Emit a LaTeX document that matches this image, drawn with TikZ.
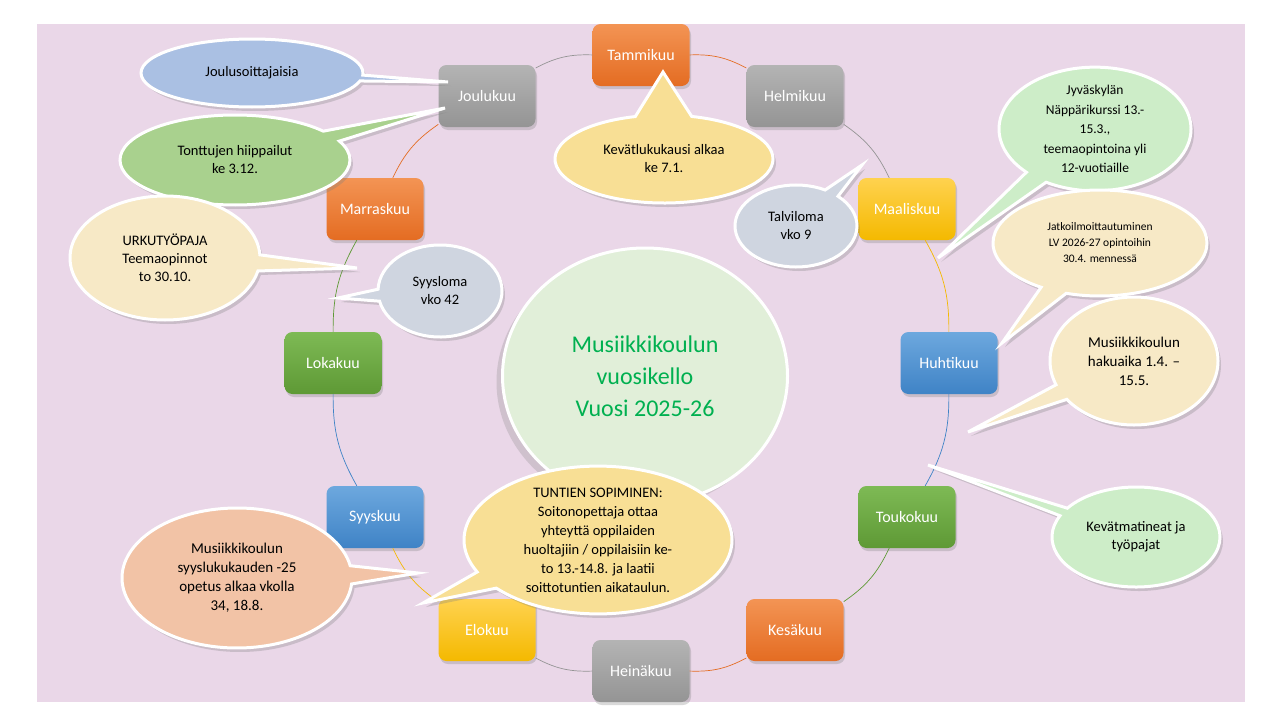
\documentclass[tikz,border=0pt]{standalone}
\usepackage{fontspec}
\setmainfont{Carlito}
\usetikzlibrary{shapes.callouts,shapes.geometric,shadows}

\definecolor{bgpink}{HTML}{EAD7E8}
\definecolor{orangeT}{HTML}{F39454}
\definecolor{orangeB}{HTML}{E46C22}
\definecolor{grayT}{HTML}{B4B4B4}
\definecolor{grayB}{HTML}{949494}
\definecolor{yellowT}{HTML}{FFD24F}
\definecolor{yellowB}{HTML}{F4B900}
\definecolor{blueT}{HTML}{6DA8DE}
\definecolor{blueB}{HTML}{3F83C6}
\definecolor{greenT}{HTML}{7EBA55}
\definecolor{greenB}{HTML}{5E9935}
\definecolor{bubbleblue}{HTML}{AAC0E3}
\definecolor{bubblegreen}{HTML}{A9D18E}
\definecolor{bubblecream}{HTML}{F7E9C6}
\definecolor{bubblegray}{HTML}{CFD5E0}
\definecolor{bubbleyellow}{HTML}{F8DF95}
\definecolor{bubblemint}{HTML}{CDEDC8}
\definecolor{bubblesalmon}{HTML}{F2C3A6}
\definecolor{centrefill}{HTML}{E1EFD9}
\definecolor{titlegreen}{HTML}{00B050}

\tikzstyle{month}=[rectangle,rounded corners=8pt,minimum width=97pt,minimum height=62pt,
  text=white,font=\fontsize{16}{19}\selectfont,
  drop shadow={shadow xshift=1.5pt,shadow yshift=-3pt,opacity=0.3}]
\tikzstyle{orangebox}=[top color=orangeT,bottom color=orangeB]
\tikzstyle{graybox}=[top color=grayT,bottom color=grayB]
\tikzstyle{yellowbox}=[top color=yellowT,bottom color=yellowB]
\tikzstyle{bluebox}=[top color=blueT,bottom color=blueB]
\tikzstyle{greenbox}=[top color=greenT,bottom color=greenB]
\tikzstyle{ring}=[line width=0.7pt]
\tikzstyle{bubble}=[ellipse callout,draw=white,line width=3pt,inner sep=0pt,align=center,
  font=\fontsize{14.5}{18}\selectfont,callout pointer arc=15,
  drop shadow={shadow xshift=3pt,shadow yshift=-4pt,opacity=0.3}]

\begin{document}
\begin{tikzpicture}[x=1pt,y=-1pt]

   \useasboundingbox (0,0) rectangle (1280,720);
   \fill[bgpink] (37,24) rectangle (1245,702);

   % Months round the ring

   \node[month,orangebox] (tam) at (641,55) {Tammikuu};
   \node[month,graybox] (hel) at (795,96) {Helmikuu};
   \node[month,yellowbox] (maa) at (907,209) {Maaliskuu};
   \node[month,bluebox] (huh) at (949,363) {Huhtikuu};
   \node[month,greenbox] (tou) at (907,517) {Toukokuu};
   \node[month,orangebox] (kes) at (795,630) {Kesäkuu};
   \node[month,graybox] (hei) at (641,671) {Heinäkuu};
   \node[month,yellowbox] (elo) at (487,630) {Elokuu};
   \node[month,bluebox] (syy) at (375,517) {Syyskuu};
   \node[month,greenbox] (lok) at (333,363) {Lokakuu};
   \node[month,orangebox] (mar) at (375,209) {Marraskuu};
   \node[month,graybox] (jou) at (487,96) {Joulukuu};

   \draw[ring,orangeB] (tam) to[bend left=15] (hel);
   \draw[ring,grayB] (hel) to[bend left=15] (maa);
   \draw[ring,yellowB] (maa) to[bend left=15] (huh);
   \draw[ring,blueB] (huh) to[bend left=15] (tou);
   \draw[ring,greenB] (tou) to[bend left=15] (kes);
   \draw[ring,orangeB] (kes) to[bend left=15] (hei);
   \draw[ring,grayB] (hei) to[bend left=15] (elo);
   \draw[ring,yellowB] (elo) to[bend left=15] (syy);
   \draw[ring,blueB] (syy) to[bend left=15] (lok);
   \draw[ring,greenB] (lok) to[bend left=15] (mar);
   \draw[ring,orangeB] (mar) to[bend left=15] (jou);
   \draw[ring,grayB] (jou) to[bend left=15] (tam);

   % Centre

   \node[ellipse,fill=centrefill,draw=white,line width=3pt,minimum width=285pt,minimum height=256pt,
     align=center,text=titlegreen,font=\fontsize{24}{32}\selectfont,
     drop shadow={shadow xshift=-6pt,shadow yshift=-6pt,opacity=0.25}]
     (title) at (645,376) {Musiikkikoulun\\vuosikello\\Vuosi 2025-26};

   % Callout tips

   \coordinate (tipJoulu) at (448,82);
   \coordinate (tipTonttu) at (445,108);
   \coordinate (tipUrku) at (357,268);
   \coordinate (tipSyysloma) at (338,298);
   \coordinate (tipKevat) at (663,72);
   \coordinate (tipTalvi) at (862,165);
   \coordinate (tipNappari) at (938,258);
   \coordinate (tipJatko) at (1002,343);
   \coordinate (tipHaku) at (968,432);
   \coordinate (tipMatinea) at (928,465);
   \coordinate (tipSyksy) at (418,573);
   \coordinate (tipTunnit) at (423,603);

   % Callouts

   \node[bubble,fill=bubbleblue,minimum width=222pt,minimum height=68pt,callout pointer arc=10,
     callout absolute pointer={(tipJoulu)}] (joulusoitto) at (252,73) {Joulusoittajaisia};
   \node[bubble,fill=bubblegreen,minimum width=230pt,minimum height=90pt,
     callout absolute pointer={(tipTonttu)}] (tonttu) at (235,160) {Tonttujen hiippailut\\ke 3.12.};
   \node[bubble,fill=bubblecream,minimum width=190pt,minimum height=124pt,
     callout absolute pointer={(tipUrku)}] (urku) at (165,258) {URKUTYÖPAJA\\Teemaopinnot\\to 30.10.};
   \node[bubble,fill=bubblegray,minimum width=124pt,minimum height=92pt,
     callout absolute pointer={(tipSyysloma)}] (syysloma) at (440,291) {Syysloma\\vko 42};
   \node[bubble,fill=bubbleyellow,minimum width=218pt,minimum height=88pt,callout pointer arc=30,
     callout absolute pointer={(tipKevat)}] (kevat) at (664,159) {Kevätlukukausi alkaa\\ke 7.1.};
   \node[bubble,fill=bubblegray,minimum width=122pt,minimum height=82pt,
     callout absolute pointer={(tipTalvi)}] (talvi) at (796,226) {Talviloma\\vko 9};
   \node[bubble,fill=bubblemint,minimum width=192pt,minimum height=108pt,
     font=\fontsize{13.5}{19.5}\selectfont,
     callout absolute pointer={(tipNappari)}] (nappari) at (1095,129)
     {Jyväskylän\\Näppärikurssi 13.-\\15.3.,\\teemaopintoina yli\\12-vuotiaille};
   \node[bubble,fill=bubblecream,minimum width=214pt,minimum height=106pt,
     font=\fontsize{11.5}{16}\selectfont,
     callout absolute pointer={(tipJatko)}] (jatko) at (1100,243)
     {Jatkoilmoittautuminen\\LV 2026-27 opintoihin\\30.4. mennessä};
   \node[bubble,fill=bubblecream,minimum width=168pt,minimum height=128pt,
     font=\fontsize{15}{19}\selectfont,
     callout absolute pointer={(tipHaku)}] (haku) at (1134,361)
     {Musiikkikoulun\\hakuaika 1.4. --\\15.5.};
   \node[bubble,fill=bubblemint,minimum width=168pt,minimum height=100pt,callout pointer arc=10,
     callout absolute pointer={(tipMatinea)}] (matinea) at (1136,537) {Kevätmatineat ja\\työpajat};
   \node[bubble,fill=bubblesalmon,minimum width=230pt,minimum height=140pt,
     font=\fontsize{15}{19}\selectfont,
     callout absolute pointer={(tipSyksy)}] (syksy) at (237,578)
     {Musiikkikoulun\\syyslukukauden -25\\opetus alkaa vkolla\\34, 18.8.};
   \node[bubble,fill=bubbleyellow,minimum width=268pt,minimum height=144pt,
     font=\fontsize{14.5}{19}\selectfont,
     callout absolute pointer={(tipTunnit)}] (tunnit) at (598,540)
     {TUNTIEN SOPIMINEN:\\Soitonopettaja ottaa\\yhteyttä oppilaiden\\huoltajiin / oppilaisiin ke-\\to 13.-14.8. ja laatii\\soittotuntien aikataulun.};

\end{tikzpicture}
\end{document}
